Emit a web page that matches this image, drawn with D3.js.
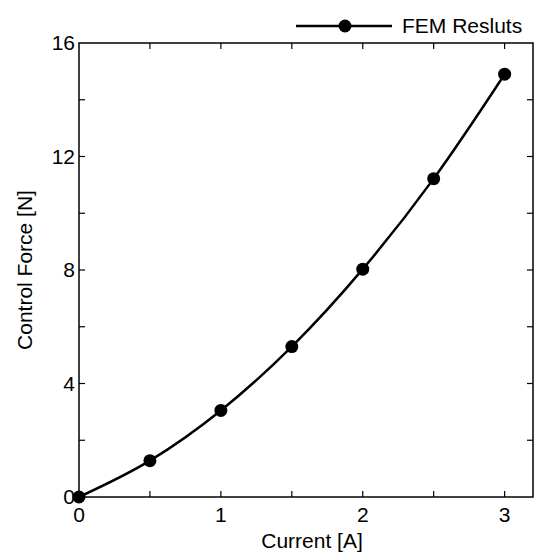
<!DOCTYPE html>
<html>
<head>
<meta charset="utf-8">
<script src="https://cdn.jsdelivr.net/npm/d3@7"></script>
<style>
  body { margin: 0; background: #fff; }
  text { font-family: Arial, "Liberation Sans", sans-serif; fill: #000; }
</style>
</head>
<body>
<svg width="536" height="556"></svg>
<script>
// data
var current = [0, 0.5, 1, 1.5, 2, 2.5, 3];
var force = [0, 1.28, 3.05, 5.3, 8.03, 11.22, 14.9];
var xTicks = [0, 1, 2, 3];
var yTicks = [0, 4, 8, 12, 16];
var seriesName = "FEM Resluts";

var svg = d3.select("svg"),
    margin = { top: 43, right: 3, bottom: 59, left: 79 },
    width = +svg.attr("width") - margin.left - margin.right,
    height = +svg.attr("height") - margin.top - margin.bottom;

var x = d3.scaleLinear().domain([0, 3.2]).range([0, width]);
var y = d3.scaleLinear().domain([0, 16]).range([height, 0]);

var g = svg.append("g")
    .attr("transform", "translate(" + margin.left + "," + margin.top + ")");

// frame
g.append("rect")
    .attr("width", width)
    .attr("height", height)
    .attr("fill", "none")
    .attr("stroke", "#000")
    .attr("stroke-width", 1.5);

var xMinor = d3.range(0.5, 3.01, 0.5);
var yMinor = d3.range(2, 16, 2);

// inward ticks, bottom + top
g.selectAll(".xt").data(xMinor).enter().append("line")
    .attr("x1", function (d) { return x(d); })
    .attr("x2", function (d) { return x(d); })
    .attr("y1", height).attr("y2", height - 6)
    .attr("stroke", "#000").attr("stroke-width", 1.2);
g.selectAll(".xtt").data(xMinor).enter().append("line")
    .attr("x1", function (d) { return x(d); })
    .attr("x2", function (d) { return x(d); })
    .attr("y1", 0).attr("y2", 6)
    .attr("stroke", "#000").attr("stroke-width", 1.2);

// inward ticks, left + right
g.selectAll(".yt").data(yMinor).enter().append("line")
    .attr("y1", function (d) { return y(d); })
    .attr("y2", function (d) { return y(d); })
    .attr("x1", 0).attr("x2", 6)
    .attr("stroke", "#000").attr("stroke-width", 1.2);
g.selectAll(".ytr").data(yMinor).enter().append("line")
    .attr("y1", function (d) { return y(d); })
    .attr("y2", function (d) { return y(d); })
    .attr("x1", width).attr("x2", width - 6)
    .attr("stroke", "#000").attr("stroke-width", 1.2);

// tick labels
g.selectAll(".xl").data(xTicks).enter().append("text")
    .attr("x", function (d) { return x(d); })
    .attr("y", height + 25)
    .attr("text-anchor", "middle")
    .style("font-size", "21px")
    .text(function (d) { return d; });

g.selectAll(".yl").data(yTicks).enter().append("text")
    .attr("x", -4)
    .attr("y", function (d) { return y(d) + 7; })
    .attr("text-anchor", "end")
    .style("font-size", "21px")
    .text(function (d) { return d; });

// axis titles
svg.append("text")
    .attr("x", margin.left + width / 2 + 6)
    .attr("y", 548)
    .attr("text-anchor", "middle")
    .style("font-size", "21px")
    .text("Current [A]");

svg.append("text")
    .attr("transform", "translate(32," + (margin.top + height / 2) + ")rotate(-90)")
    .attr("text-anchor", "middle")
    .style("font-size", "21px")
    .text("Control Force [N]");

// series
var line = d3.line()
    .curve(d3.curveMonotoneX)
    .x(function (d, i) { return x(current[i]); })
    .y(function (d) { return y(d); });

g.append("path")
    .datum(force)
    .attr("fill", "none")
    .attr("stroke", "#000")
    .attr("stroke-width", 2.5)
    .attr("d", line);

g.selectAll(".pt").data(force).enter().append("circle")
    .attr("cx", function (d, i) { return x(current[i]); })
    .attr("cy", function (d) { return y(d); })
    .attr("r", 6.5)
    .attr("fill", "#000");

// legend
var legend = svg.append("g").attr("transform", "translate(296,26)");
legend.append("line")
    .attr("x1", 0).attr("x2", 96)
    .attr("stroke", "#000").attr("stroke-width", 2.5);
legend.append("circle")
    .attr("cx", 49).attr("r", 6.5).attr("fill", "#000");
legend.append("text")
    .attr("x", 106).attr("y", 7)
    .style("font-size", "21px")
    .text(seriesName);
</script>
</body>
</html>
